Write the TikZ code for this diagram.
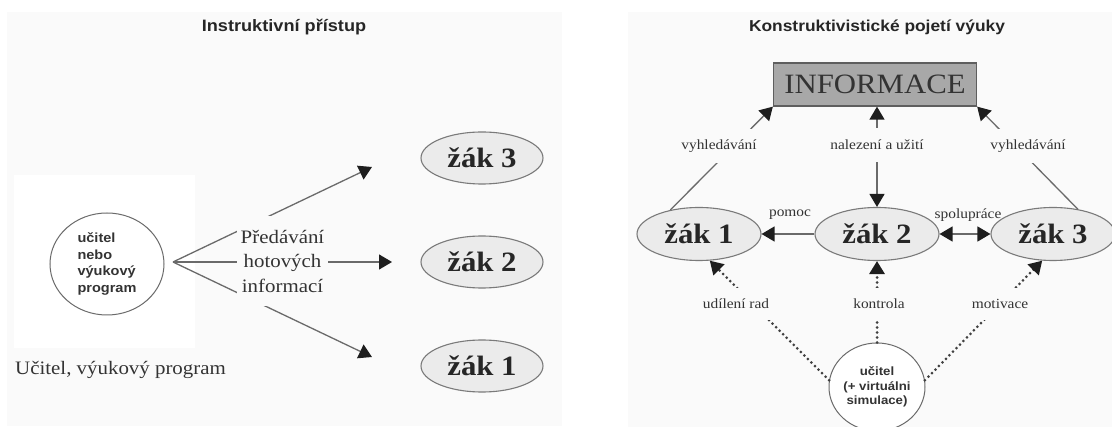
\documentclass[tikz,border=0pt]{standalone}
\usepackage{fontspec}
\setmainfont{Liberation Serif}[FakeStretch=1.1]
\newfontfamily\sansfam{Liberation Sans}[FakeStretch=1.1]
\usetikzlibrary{arrows.meta,shapes.geometric}
\definecolor{panelbg}{HTML}{FAFAFA}
\definecolor{linec}{HTML}{6A6A6A}
\definecolor{tipc}{HTML}{1E1E1E}
\definecolor{ellfill}{HTML}{EBEBEB}
\definecolor{ellline}{HTML}{7A7A7A}
\definecolor{infofill}{HTML}{A8A8A8}
\definecolor{infoline}{HTML}{5E5E5E}
\definecolor{txtc}{HTML}{333333}
\begin{document}
\begin{tikzpicture}[x=1pt,y=-1pt,
  conn/.style={draw=linec, line width=1.3pt, -{Triangle[length=13pt,width=15pt,color=tipc]}},
  conntwo/.style={draw=linec, line width=1.3pt, {Triangle[length=13pt,width=15pt,color=tipc]}-{Triangle[length=13pt,width=15pt,color=tipc]}},
  dconn/.style={draw=tipc!85, line width=3pt, line cap=round, dash pattern=on 0pt off 5pt, -{Triangle[length=13pt,width=15pt,color=tipc]}},
  zak/.style={ellipse, draw=ellline, line width=1.1pt, fill=ellfill, inner sep=0pt, font=\fontsize{28}{30}\selectfont\bfseries, text=black!85},
  zakleft/.style={zak, minimum width=122pt, minimum height=52pt},
  zakright/.style={zak, minimum width=124pt, minimum height=53pt},
  lbl/.style={font=\fontsize{14}{16}\selectfont, text=txtc, inner xsep=2pt},
  cover/.style={lbl, fill=panelbg, minimum height=34pt, inner ysep=0pt},
  dcover/.style={lbl, fill=panelbg, minimum height=32pt, inner ysep=0pt},
  titlestyle/.style={text=black!85},
  teacher/.style={ellipse, draw=linec, line width=1pt, fill=white, inner sep=0pt, font=\sansfam\bfseries, text=txtc}
]
\useasboundingbox (0,0) rectangle (1112,427);
% backgrounds
\fill[white] (0,0) rectangle (1112,427);
\fill[panelbg] (7,12) rectangle (562,426);
\fill[panelbg] (628,12) rectangle (1112,427);
\fill[white] (14,175) rectangle (195,348);

% ---------- left panel ----------
\node[titlestyle, font=\sansfam\bfseries\fontsize{16.5}{19}\selectfont] (titleL) at (284,27) {Instruktivní přístup};
\node[teacher, minimum width=114pt, minimum height=102pt, align=left, font=\sansfam\bfseries\fontsize{13.2}{16.7}\selectfont] (t1) at (107,264) {učitel\\nebo\\výukový\\program};
\coordinate (src) at (173,262);
\coordinate (a3) at (372,167);
\coordinate (a2) at (392,262);
\coordinate (a1) at (372,357);
\draw[conn] (src) -- (a3);
\draw[conn] (src) -- (a2);
\draw[conn] (src) -- (a1);
\node[fill=panelbg, minimum width=91pt, minimum height=90pt, inner sep=0pt, align=center, font=\fontsize{19}{24.5}\selectfont, text=txtc] (pred) at (282.5,261) {Předávání\\hotových\\informací};
\node[zakleft] (l3) at (482,158) {žák 3};
\node[zakleft] (l2) at (482,262) {žák 2};
\node[zakleft] (l1) at (482,366) {žák 1};
\node[anchor=west, inner sep=0pt, font=\fontsize{19}{21}\selectfont, text=txtc] (ucit) at (15,370) {Učitel, výukový program};

% ---------- right panel ----------
\node[titlestyle, font=\sansfam\bfseries\fontsize{15.8}{18}\selectfont] (titleR) at (877,27) {Konstruktivistické pojetí výuky};
\node[draw=infoline, line width=1.3pt, fill=infofill, minimum width=203pt, minimum height=43pt, inner sep=0pt, font=\fontsize{28}{30}\selectfont, text=black!80] (info) at (875,84.5) {INFORMACE};
\node[zakright] (z1) at (699,234) {žák 1};
\node[zakright] (z2) at (877,234) {žák 2};
\node[zakright] (z3) at (1053,234) {žák 3};
\node[teacher, minimum width=96pt, minimum height=88pt, align=center, font=\sansfam\bfseries\fontsize{12}{14.5}\selectfont] (t2) at (877,387) {učitel\\(+ virtuálni\\simulace)};

\draw[conn] (z1.140) -- (info.south west);
\draw[conn] (z3.45) -- (info.south east);
\draw[conntwo] (z2.north) -- (z2.north |- info.south);
\draw[conn] (z2.west) -- (z1.east);
\draw[conntwo] (z2.east) -- (z3.west);
\draw[dconn] (t2.172) -- (z1.-68);
\draw[dconn] (t2.north) -- (z2.south);
\draw[dconn] (t2.8) -- (z3.-112);

\node[cover] (v1) at (719,146) {vyhledávání};
\node[cover] (nal) at (877,145) {nalezení a užití};
\node[cover] (v3) at (1028,146) {vyhledávání};
\node[lbl] (pom) at (790,215) {pomoc};
\node[lbl] (spol) at (968,215) {spolupráce};
\node[dcover] (udil) at (736,304) {udílení rad};
\node[dcover] (kon) at (879,304) {kontrola};
\node[dcover] (mot) at (1000,304) {motivace};
\end{tikzpicture}
\end{document}
